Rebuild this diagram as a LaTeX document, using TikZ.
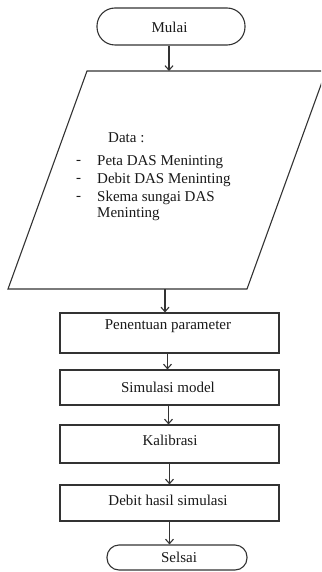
\documentclass[tikz,border=0pt]{standalone}
\usepackage{fontspec}
\setmainfont{Liberation Serif}
\usetikzlibrary{arrows.meta}
\begin{document}
\begin{tikzpicture}[x=1pt,y=-1pt,
  ln/.style={draw=black!80,line width=1.1pt},
  arr/.style={ln,-{Straight Barb[length=4.5pt,width=8pt,line width=1.1pt]}},
  term/.style={ln,rounded corners=12pt,minimum height=#1,inner sep=0pt},
  procbox/.style={ln,minimum width=219pt,inner sep=0pt},
  txt/.style={font=\fontsize{15}{17}\selectfont,inner sep=0pt,text=black!90}]
\useasboundingbox (0,0) rectangle (321,572);
\clip (0,0) rectangle (321,572);
\fill[white] (0,0) rectangle (321,572);
% terminals
\node[term=37pt,minimum width=148pt,rounded corners=18pt] (mulai) at (171,26.5) {};
\node[txt] (mulaiT) at (169.5,27) {Mulai};
% data parallelogram
\coordinate (d1) at (87,71);
\coordinate (d2) at (326,71);
\coordinate (d3) at (247,289);
\coordinate (d4) at (8,289);
\draw[ln] (d1) -- (d2) -- (d3) -- (d4) -- cycle;
\coordinate (dataTop) at (169,71);
\coordinate (dataBot) at (165,289);
\node[txt,anchor=west] (dt0) at (108,138) {Data :};
\node[txt,anchor=west] (db1) at (76,162) {-};
\node[txt,anchor=west] (dt1) at (97,162) {Peta DAS Meninting};
\node[txt,anchor=west] (db2) at (76,180) {-};
\node[txt,anchor=west] (dt2) at (97,180) {Debit DAS Meninting};
\node[txt,anchor=west] (db3) at (76,198) {-};
\node[txt,anchor=west] (dt3) at (97,198) {Skema sungai DAS};
\node[txt,anchor=west] (dt4) at (97,214) {Meninting};
% process boxes
\node[procbox,minimum height=40pt] (box1) at (169.5,333) {};
\node[txt] (box1T) at (168,326) {Penentuan parameter};
\node[procbox,minimum height=35pt] (box2) at (169.5,387.5) {};
\node[txt] (box2T) at (168,387) {Simulasi model};
\node[procbox,minimum height=38pt] (box3) at (169.5,444) {};
\node[txt] (box3T) at (170,440) {Kalibrasi};
\node[procbox,minimum height=36pt] (box4) at (169.5,503) {};
\node[txt] (box4T) at (168,500) {Debit hasil simulasi};
\node[term=25pt,minimum width=140pt] (selsai) at (177,557.5) {};
\node[txt] (selsaiT) at (179,557) {Selsai};
% arrows
\draw[arr] (mulai.south -| dataTop) -- (dataTop);
\draw[arr] (dataBot) -- (dataBot |- box1.north);
\draw[arr] ([xshift=-2pt]box1.south) -- ([xshift=-2pt]box2.north);
\draw[arr] ([xshift=-1pt]box2.south) -- ([xshift=-1pt]box3.north);
\draw[arr] (box3.south) -- (box4.north);
\draw[arr] (box4.south) -- (box4.south |- selsai.north);
\end{tikzpicture}
\end{document}
